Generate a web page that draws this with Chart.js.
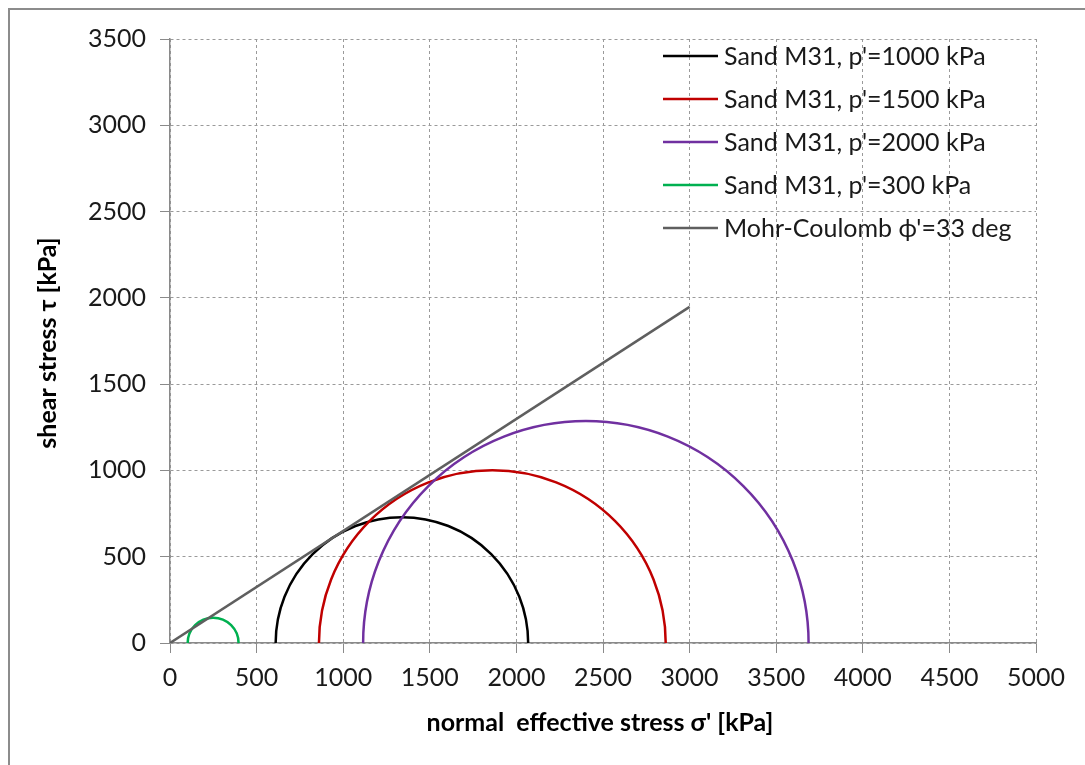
<!DOCTYPE html>
<html>
<head>
<meta charset="utf-8">
<script src="https://cdn.jsdelivr.net/npm/chart.js@4.4.0/dist/chart.umd.min.js"></script>
<style>
  body { margin: 0; background: #fff; overflow: hidden; }
  #wrap { position: relative; width: 1085px; height: 765px; }
  #frame { position: absolute; left: 8px; top: 8px; width: 1200px; height: 900px; border: 2px solid #8c8c8c; }
  canvas { position: absolute; left: 0; top: 0; }
</style>
</head>
<body>
<div id="wrap">
  <div id="frame"></div>
  <canvas id="mohrChart" width="1085" height="765"></canvas>
</div>
<script>
// Mohr circles (kPa)
const seriesLabels = [
  "Sand M31, p'=1000 kPa",
  "Sand M31, p'=1500 kPa",
  "Sand M31, p'=2000 kPa",
  "Sand M31, p'=300 kPa"
];
const sigma3 = [610, 860, 1115, 102];
const sigma1 = [2068, 2862, 3687, 396];
const circleColors = ["#000000", "#c00000", "#7030a0", "#00b050"];

// Mohr-Coulomb envelope
const envelopeLabel = "Mohr-Coulomb \u03d5'=33 deg";
const envelopeX = [0, 3000];
const envelopeY = [0, 1948];
const envelopeColor = "#5f5f5f";

// axis ticks
const xTicks = [0, 500, 1000, 1500, 2000, 2500, 3000, 3500, 4000, 4500, 5000];
const yTicks = [0, 500, 1000, 1500, 2000, 2500, 3000, 3500];

const FONT = "Lato, 'Open Sans', sans-serif";

const datasets = seriesLabels.map((label, i) => ({
  label: label,
  data: [{x: sigma3[i], y: 0}, {x: sigma1[i], y: 0}],
  borderColor: circleColors[i],
  showLine: false,
  pointRadius: 0,
  isCircle: true
}));

datasets.push({
  label: envelopeLabel,
  data: envelopeX.map((x, i) => ({x: x, y: envelopeY[i]})),
  borderColor: envelopeColor,
  borderWidth: 2.5,
  showLine: true,
  pointRadius: 0
});

// semicircles drawn through the chart's scales
const circlePlugin = {
  id: "circles",
  beforeDatasetsDraw(chart){
    const {ctx, chartArea, scales: {x, y}} = chart;
    ctx.save();
    ctx.beginPath();
    ctx.rect(chartArea.left, chartArea.top, chartArea.width, chartArea.height);
    ctx.clip();
    chart.data.datasets.forEach(ds => {
      if(!ds.isCircle) return;
      const s3 = ds.data[0].x, s1 = ds.data[1].x;
      const c = (s3 + s1) / 2, r = (s1 - s3) / 2;
      const cx = x.getPixelForValue(c);
      const rx = x.getPixelForValue(s1) - cx;
      const y0 = y.getPixelForValue(0);
      const ry = y0 - y.getPixelForValue(r);
      ctx.beginPath();
      ctx.ellipse(cx, y0, rx, ry, 0, Math.PI, 2 * Math.PI);
      ctx.strokeStyle = ds.borderColor;
      ctx.lineWidth = 2.5;
      ctx.stroke();
    });
    ctx.restore();
  }
};

// legend inside plot + axis titles
const decorPlugin = {
  id: "decor",
  afterDraw(chart){
    const ctx = chart.ctx;
    ctx.save();
    ctx.font = "25px " + FONT;
    ctx.textBaseline = "middle";
    ctx.textAlign = "left";
    chart.data.datasets.forEach((ds, i) => {
      const yy = 56 + i * 43;
      ctx.beginPath();
      ctx.moveTo(663, yy);
      ctx.lineTo(718, yy);
      ctx.strokeStyle = ds.borderColor;
      ctx.lineWidth = 2.5;
      ctx.stroke();
      ctx.fillStyle = "#1a1a1a";
      ctx.fillText(ds.label, 724, yy + 1);
    });

    ctx.font = "bold 25px " + FONT;
    ctx.fillStyle = "#000";
    ctx.textAlign = "center";
    ctx.fillText("normal  effective stress \u03c3' [kPa]", 600, 723);

    ctx.translate(48, 343);
    ctx.rotate(-Math.PI / 2);
    ctx.fillText("shear stress \u03c4 [kPa]", 0, 0);
    ctx.restore();
  }
};

const gridStyle = {
  color: "#9a9a9a",
  lineWidth: 1,
  tickBorderDash: [],
  tickColor: "#8a8a8a",
  tickLength: 10,
  drawTicks: true
};

const borderStyle = { color: "#8a8a8a", width: 1.5, dash: [3, 3] };

new Chart(document.getElementById("mohrChart"), {
  type: "scatter",
  data: { datasets: datasets },
  options: {
    responsive: false,
    animation: false,
    layout: { padding: { left: 0, right: 49, top: 39, bottom: 0 } },
    plugins: {
      legend: { display: false },
      tooltip: { enabled: false }
    },
    scales: {
      x: {
        type: "linear",
        min: 0,
        max: 5000,
        afterBuildTicks(scale){ scale.ticks = xTicks.map(v => ({value: v})); },
        afterFit(scale){ scale.height = 122; },
        grid: gridStyle,
        border: borderStyle,
        ticks: {
          color: "#1a1a1a",
          padding: 10,
          maxRotation: 0,
          font: { family: FONT, size: 25 },
          callback: v => String(v)
        }
      },
      y: {
        type: "linear",
        min: 0,
        max: 3500,
        afterBuildTicks(scale){ scale.ticks = yTicks.map(v => ({value: v})); },
        afterFit(scale){ scale.width = 170; },
        grid: gridStyle,
        border: borderStyle,
        ticks: {
          color: "#1a1a1a",
          padding: 14,
          font: { family: FONT, size: 25 },
          callback: v => String(v)
        }
      }
    }
  },
  plugins: [circlePlugin, decorPlugin]
});
</script>
</body>
</html>
